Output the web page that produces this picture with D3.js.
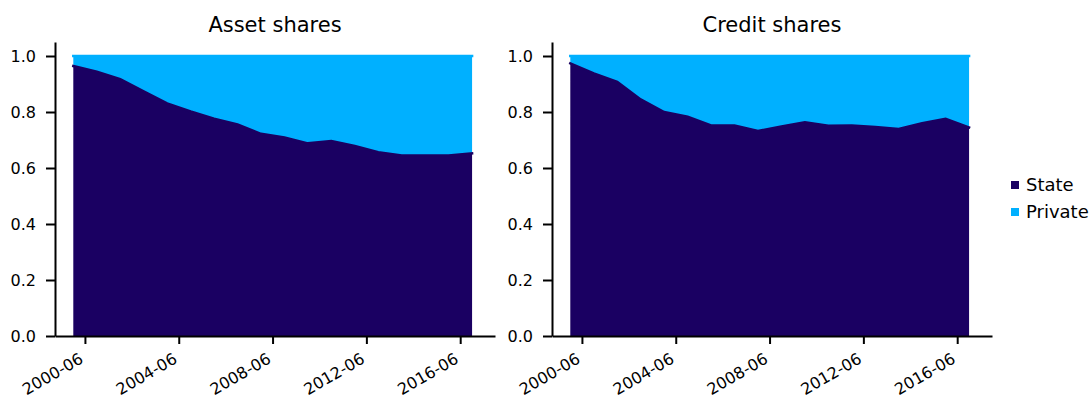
<!DOCTYPE html>
<html>
<head>
<meta charset="utf-8">
<script src="https://cdn.jsdelivr.net/npm/d3@7/dist/d3.min.js"></script>
<style>
  body { margin: 0; background: #fff; }
  svg text { font-family: "DejaVu Sans", sans-serif; fill: #000; }
</style>
</head>
<body>
<div id="chart"></div>
<script>

// yearly observations
var dates = ["2000-01-01", "2001-01-01", "2002-01-01", "2003-01-01", "2004-01-01", "2005-01-01",
  "2006-01-01", "2007-01-01", "2008-01-01", "2009-01-01", "2010-01-01", "2011-01-01",
  "2012-01-01", "2013-01-01", "2014-01-01", "2015-01-01", "2016-01-01", "2017-01-01"];

var assetState   = [0.964, 0.944, 0.917, 0.874, 0.831, 0.802, 0.776, 0.756, 0.722,
  0.709, 0.688, 0.696, 0.679, 0.656, 0.645, 0.645, 0.645, 0.652];
var assetPrivate = [0.036, 0.056, 0.083, 0.126, 0.169, 0.198, 0.224, 0.244, 0.278,
  0.291, 0.312, 0.304, 0.321, 0.344, 0.355, 0.355, 0.355, 0.348];

var creditState   = [0.974, 0.938, 0.908, 0.845, 0.800, 0.783, 0.752, 0.752, 0.732,
  0.748, 0.763, 0.751, 0.752, 0.746, 0.739, 0.760, 0.776, 0.745];
var creditPrivate = [0.026, 0.062, 0.092, 0.155, 0.200, 0.217, 0.248, 0.248, 0.268,
  0.252, 0.237, 0.249, 0.248, 0.254, 0.261, 0.240, 0.224, 0.255];

var seriesNames = ["State", "Private"];
var yTicks = [0, 0.2, 0.4, 0.6, 0.8, 1.0];
var xTicks = ["2000-06-30", "2004-06-30", "2008-06-30", "2012-06-30", "2016-06-30"];

var colors = { "State": "#1a0062", "Private": "#00b0ff" };

var parseDate = d3.timeParse("%Y-%m-%d");

var svg = d3.select("#chart").append("svg")
  .attr("width", 1090)
  .attr("height", 396);


/*
 *  ShareArea - one stacked area panel
 */
ShareArea = function(_svg, _left, _title, _state, _private) {
  this.svg = _svg;
  this.left = _left;
  this.title = _title;
  this.state = _state;
  this.private = _private;

  this.initVis();
};

ShareArea.prototype.initVis = function() {
  var vis = this;

  vis.margin = {top: 42, left: vis.left};
  vis.width = 440;
  vis.height = 294;

  vis.g = vis.svg.append("g")
    .attr("transform", "translate(" + vis.margin.left + "," + vis.margin.top + ")");

  vis.data = dates.map(function(d, i) {
    return { date: parseDate(d), State: vis.state[i], Private: vis.private[i] };
  });

  vis.x = d3.scaleTime()
    .domain([new Date(1999, 2, 22), new Date(2017, 11, 24)])
    .range([0, vis.width]);

  vis.y = d3.scaleLinear()
    .domain([0, 1.05])
    .range([vis.height, 0]);

  vis.stack = d3.stack().keys(seriesNames)(vis.data);

  vis.drawVis();
};

ShareArea.prototype.drawVis = function() {
  var vis = this;

  var area = d3.area()
    .x(function(d) { return vis.x(d.data.date); })
    .y0(function(d) { return vis.y(d[0]); })
    .y1(function(d) { return vis.y(d[1]); });

  var line = d3.line()
    .x(function(d) { return vis.x(d.data.date); })
    .y(function(d) { return vis.y(d[1]); });

  vis.g.selectAll(".area")
    .data(vis.stack)
    .enter().append("path")
    .attr("class", "area")
    .attr("d", area)
    .attr("fill", function(d) { return colors[d.key]; });

  vis.g.selectAll(".line")
    .data(vis.stack)
    .enter().append("path")
    .attr("class", "line")
    .attr("d", line)
    .attr("fill", "none")
    .attr("stroke", function(d) { return colors[d.key]; })
    .attr("stroke-width", 2.5)
    .attr("stroke-linecap", "square");

  // y axis
  var yAxis = vis.g.append("g")
    .call(d3.axisLeft(vis.y)
      .tickValues(yTicks)
      .tickFormat(d3.format(".1f"))
      .tickSize(9)
      .tickSizeOuter(0)
      .tickPadding(10));

  // x axis
  var xAxis = vis.g.append("g")
    .attr("transform", "translate(0," + vis.height + ")")
    .call(d3.axisBottom(vis.x)
      .tickValues(xTicks.map(parseDate))
      .tickFormat(d3.timeFormat("%Y-%m"))
      .tickSize(8)
      .tickSizeOuter(0));

  xAxis.selectAll("text")
    .attr("text-anchor", "end")
    .attr("dy", null)
    .attr("y", null)
    .attr("transform", "translate(-1,26) rotate(-30)");

  [xAxis, yAxis].forEach(function(ax) {
    ax.select(".domain").attr("stroke", "#000").attr("stroke-width", 2);
    ax.selectAll(".tick line").attr("stroke", "#000").attr("stroke-width", 2);
    ax.selectAll("text").style("font-size", "16px").attr("fill", "#000");
  });

  vis.svg.append("text")
    .attr("x", vis.margin.left + vis.width / 2)
    .attr("y", 32)
    .attr("text-anchor", "middle")
    .style("font-size", "21px")
    .text(vis.title);
};

var assetChart = new ShareArea(svg, 55, "Asset shares", assetState, assetPrivate);
var creditChart = new ShareArea(svg, 552, "Credit shares", creditState, creditPrivate);

// legend
var legend = svg.selectAll(".legend")
  .data(seriesNames)
  .enter().append("g")
  .attr("class", "legend")
  .attr("transform", function(d, i) { return "translate(1011," + (181 + i * 27) + ")"; });

legend.append("rect")
  .attr("width", 8)
  .attr("height", 8)
  .attr("fill", function(d) { return colors[d]; });

legend.append("text")
  .attr("x", 15)
  .attr("y", 9.5)
  .style("font-size", "18px")
  .text(function(d) { return d; });

</script>
</body>
</html>
